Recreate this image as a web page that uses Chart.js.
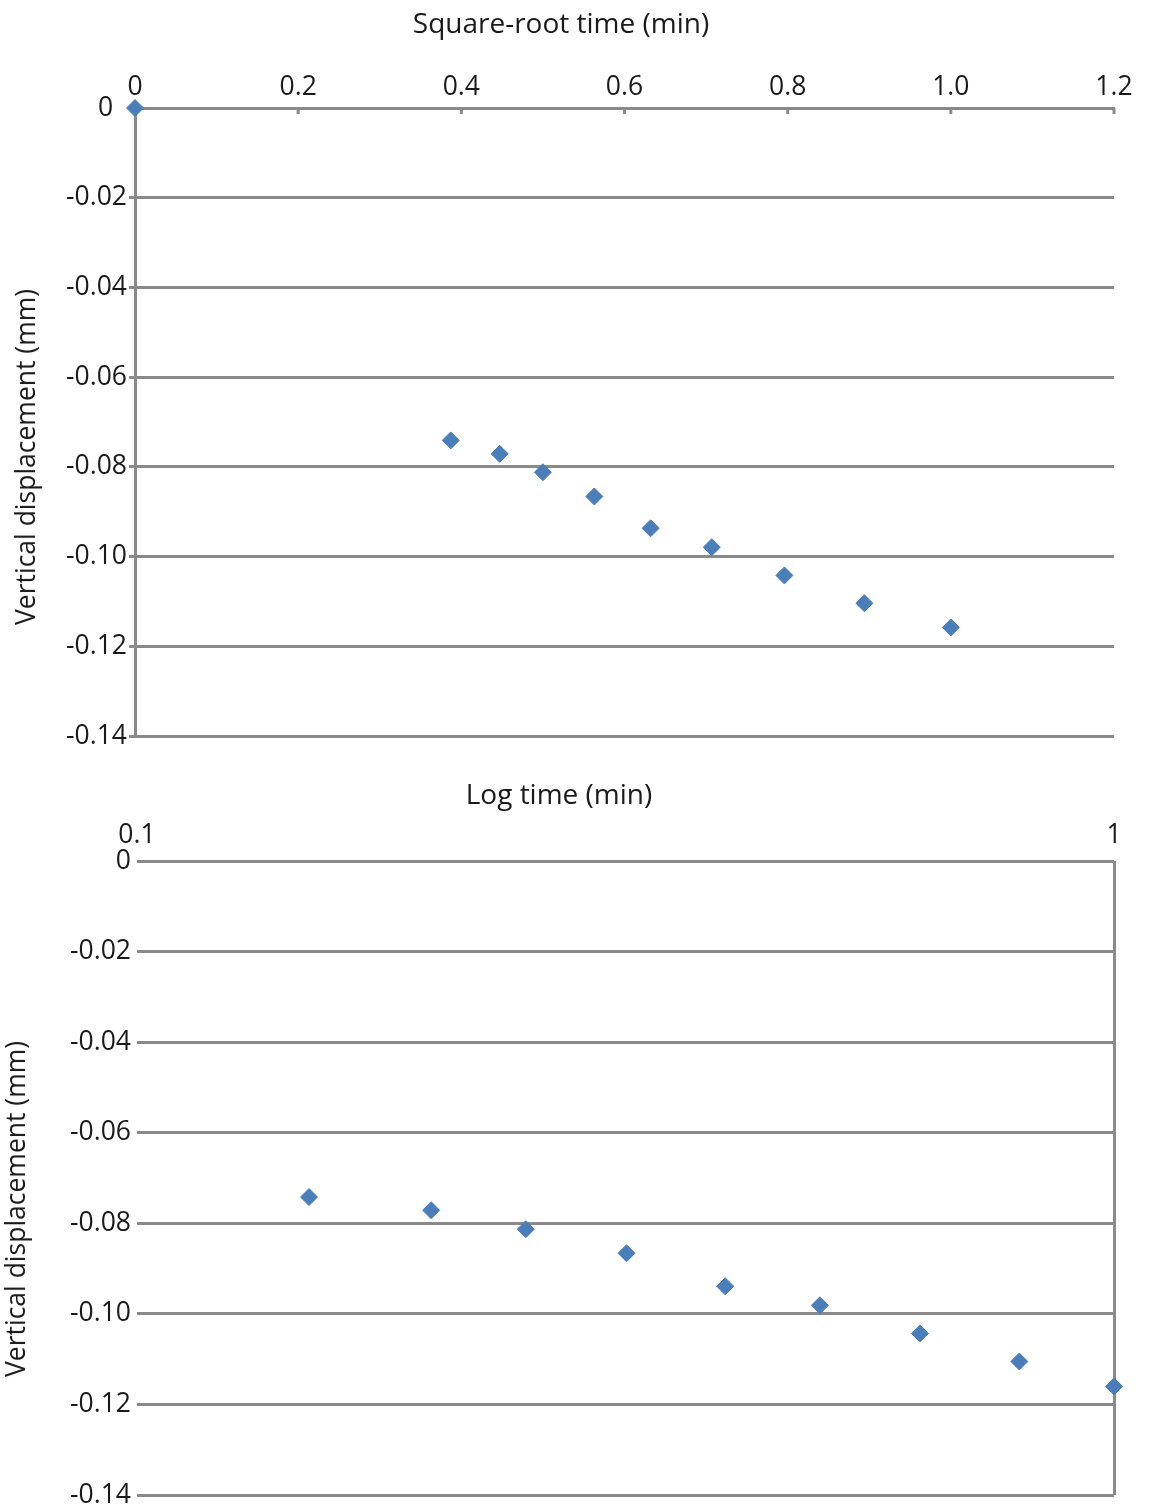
<!DOCTYPE html>
<html>
<head>
<meta charset="utf-8">
<script src="https://cdn.jsdelivr.net/npm/chart.js@4/dist/chart.umd.min.js"></script>
<style>
  body { margin: 0; background: #fff; width: 1152px; height: 1506px; position: relative; overflow: hidden; font-family: "Open Sans", sans-serif; color: #1a1a1a; }
  .box { position: absolute; left: 0; width: 1152px; }
  .ttl { position: absolute; font-size: 28px; white-space: nowrap; transform: translate(-50%, -50%); }
  .ttl.rot { font-size: 26.5px; transform: translate(-50%, -50%) rotate(-90deg); }
</style>
</head>
<body>
<div class="box" style="top:0;height:760px"><canvas id="grafico1"></canvas></div>
<div class="box" style="top:760px;height:757px"><canvas id="grafico2"></canvas></div>
<div class="ttl" style="left:561px;top:22px">Square-root time (min)</div>
<div class="ttl rot" style="left:25px;top:457px">Vertical displacement (mm)</div>
<div class="ttl" style="left:559px;top:793px">Log time (min)</div>
<div class="ttl rot" style="left:15px;top:1209px">Vertical displacement (mm)</div>
<script>
// dados
const raizTempo = [0, 0.387, 0.447, 0.5, 0.563, 0.632, 0.707, 0.796, 0.894, 1.0];
const deslocamento = [0, -0.0741, -0.0771, -0.0812, -0.0866, -0.0937, -0.0979, -0.1042, -0.1104, -0.1158];
const tempoLog = [0.15, 0.2, 0.25, 0.317, 0.4, 0.5, 0.633, 0.8, 1.0];
const deslocamentoLog = [-0.0742, -0.0771, -0.0813, -0.0866, -0.0939, -0.0981, -0.1043, -0.1105, -0.1160];
const ticksRaiz = [0, 0.2, 0.4, 0.6, 0.8, 1.0, 1.2];
const ticksLog = [0.1, 1];
const ticksY = [0, -0.02, -0.04, -0.06, -0.08, -0.10, -0.12, -0.14];

const cinza = "#8a8a8a";
const azul = "#4a7ebb";
const fonte = { family: "'Open Sans', sans-serif", size: 26.5 };

Chart.defaults.color = "#1a1a1a";

function rotuloY(v) {
    if (Math.abs(v) < 1e-9) return "0";
    return v.toFixed(2);
}

const pontos = (xs, ys) => xs.map((x, i) => ({ x: x, y: ys[i] }));

const marcasDentro = {
    id: "marcasDentro",
    beforeDatasetsDraw(chart) {
        const esc = chart.scales.x;
        const ctx = chart.ctx;
        const topo = chart.chartArea.top;
        ctx.save();
        ctx.strokeStyle = cinza;
        ctx.lineWidth = 3;
        esc.ticks.forEach(t => {
            const px = esc.getPixelForValue(t.value);
            ctx.beginPath();
            ctx.moveTo(px, topo);
            ctx.lineTo(px, topo + 6);
            ctx.stroke();
        });
        ctx.restore();
    }
};

new Chart(document.getElementById("grafico1"), {
    type: "scatter",
    data: {
        datasets: [{
            data: pontos(raizTempo, deslocamento),
            pointStyle: "rectRot",
            pointRadius: 8.5,
            pointBackgroundColor: azul,
            pointBorderColor: azul,
            pointBorderWidth: 1,
            clip: false
        }]
    },
    options: {
        responsive: true,
        maintainAspectRatio: false,
        animation: false,
        layout: { padding: { left: 0, right: 38, top: 0, bottom: 24 } },
        plugins: { legend: { display: false }, tooltip: { enabled: false } },
        scales: {
            x: {
                type: "linear",
                position: "top",
                min: 0, max: 1.2,
                afterBuildTicks: s => { s.ticks = ticksRaiz.map(v => ({ value: v })); },
                afterFit: s => { s.height = 108; },
                ticks: {
                    font: fonte, padding: 5, maxRotation: 0,
                    callback: v => v === 0 ? "0" : v.toFixed(1)
                },
                grid: { display: false, drawTicks: false },
                border: { display: true, color: cinza, width: 3 }
            },
            y: {
                min: -0.14, max: 0,
                afterBuildTicks: s => { s.ticks = ticksY.map(v => ({ value: v })); },
                afterFit: s => { s.width = 135; },
                ticks: { font: fonte, padding: 2, callback: v => rotuloY(v) === "0" ? "0  " : rotuloY(v) },
                grid: { color: cinza, lineWidth: 3, tickLength: 6, tickColor: cinza, tickWidth: 3 },
                border: { display: true, color: cinza, width: 3 }
            }
        }
    },
    plugins: [marcasDentro]
});

new Chart(document.getElementById("grafico2"), {
    type: "scatter",
    data: {
        datasets: [{
            data: pontos(tempoLog, deslocamentoLog),
            pointStyle: "rectRot",
            pointRadius: 8.5,
            pointBackgroundColor: azul,
            pointBorderColor: azul,
            pointBorderWidth: 1,
            clip: false
        }]
    },
    options: {
        responsive: true,
        maintainAspectRatio: false,
        animation: false,
        layout: { padding: { left: 0, right: 38, top: 0, bottom: 0 } },
        plugins: { legend: { display: false }, tooltip: { enabled: false } },
        scales: {
            x: {
                type: "logarithmic",
                position: "top",
                min: 0.1, max: 1,
                afterBuildTicks: s => { s.ticks = ticksLog.map(v => ({ value: v })); },
                afterFit: s => { s.height = 101; },
                ticks: { font: fonte, padding: 10, maxRotation: 0, autoSkip: false, callback: v => String(v) },
                grid: {
                    drawTicks: false,
                    lineWidth: 3,
                    color: c => c.tick && c.tick.value === 1 ? cinza : "rgba(0,0,0,0)"
                },
                border: { display: false }
            },
            y: {
                min: -0.14, max: 0,
                afterBuildTicks: s => { s.ticks = ticksY.map(v => ({ value: v })); },
                afterFit: s => { s.width = 137; },
                ticks: { font: fonte, padding: 6, callback: rotuloY },
                grid: { color: cinza, lineWidth: 3, drawTicks: false },
                border: { display: false }
            }
        }
    }
});
</script>
</body>
</html>
